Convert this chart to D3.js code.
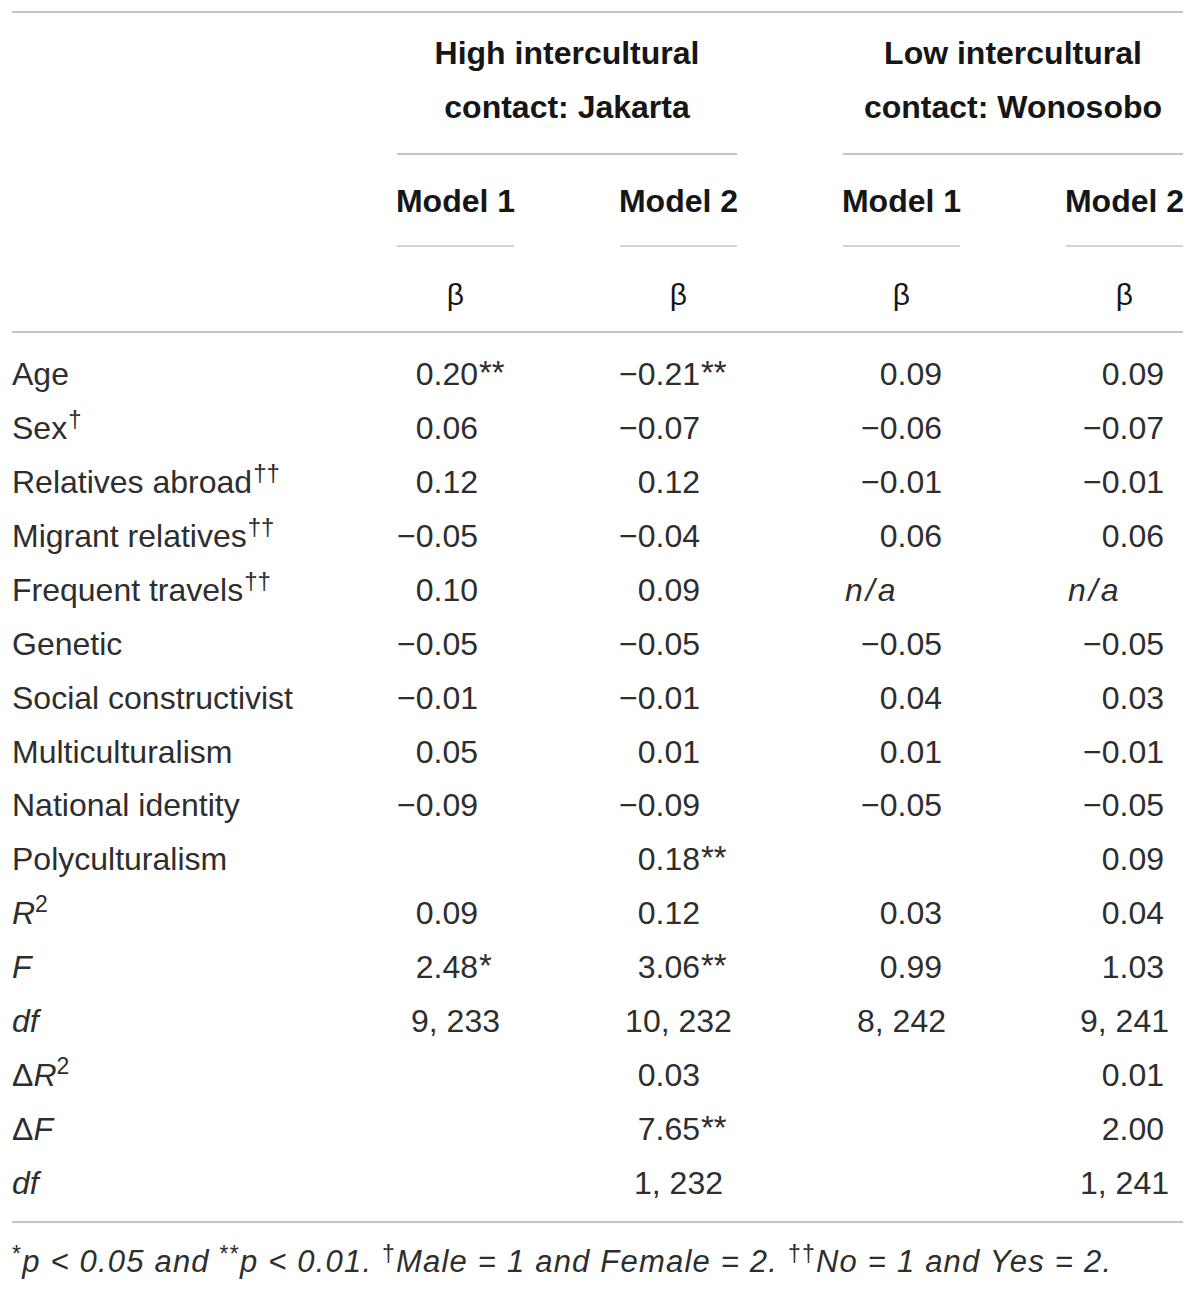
<!DOCTYPE html>
<html>
<head>
<meta charset="utf-8">
<script src="https://cdn.jsdelivr.net/npm/d3@7"></script>
<style>
  body { margin: 0; background: #fff; }
  svg { display: block; font-family: "Liberation Sans", Arial, Helvetica, sans-serif; }
</style>
</head>
<body>
<svg id="chart"></svg>
<script>
// ---- table content ----
const groupTitles = [
  ["High intercultural", "contact: Jakarta"],
  ["Low intercultural", "contact: Wonosobo"]
];
const modelNames = ["Model 1", "Model 2", "Model 1", "Model 2"];
const coefSymbol = "β";

const predictorLabels = [
  "Age", "Sex†", "Relatives abroad††", "Migrant relatives††", "Frequent travels††",
  "Genetic", "Social constructivist", "Multiculturalism", "National identity", "Polyculturalism"
];
const statLabels = ["R2", "F", "df", "ΔR2", "ΔF", "df"];

const jakartaM1 = ["0.20**", "0.06", "0.12", "−0.05", "0.10", "−0.05", "−0.01", "0.05", "−0.09", "",
  "0.09", "2.48*", "9, 233", "", "", ""];
const jakartaM2 = ["−0.21**", "−0.07", "0.12", "−0.04", "0.09", "−0.05", "−0.01", "0.01", "−0.09", "0.18**",
  "0.12", "3.06**", "10, 232", "0.03", "7.65**", "1, 232"];
const wonosoboM1 = ["0.09", "−0.06", "−0.01", "0.06", "n/a", "−0.05", "0.04", "0.01", "−0.05", "",
  "0.03", "0.99", "8, 242", "", "", ""];
const wonosoboM2 = ["0.09", "−0.07", "−0.01", "0.06", "n/a", "−0.05", "0.03", "−0.01", "−0.05", "0.09",
  "0.04", "1.03", "9, 241", "0.01", "2.00", "1, 241"];

const footnote = "*p < 0.05 and **p < 0.01. †Male = 1 and Female = 2. ††No = 1 and Yes = 2.";

// ---- layout ----
const width = 1200, height = 1291;
const left = 12, right = 1183;
const textColor = "#2e2e2e", headColor = "#161616", ruleColor = "#c4c4c4";
const fontSize = 32;
const colHalf = 58.5;
const numOffset = [22.5, 21.5, 40.5, 39.5]; // decimal alignment inside each column

const columns = [jakartaM1, jakartaM2, wonosoboM1, wonosoboM2];
const rowLabels = predictorLabels.concat(statLabels);

const svg = d3.select("#chart").attr("width", width).attr("height", height);

const x = d3.scalePoint().domain(d3.range(columns.length)).range([455.5, 1124.5]);
const y = d3.scalePoint().domain(d3.range(rowLabels.length)).range([374, 1183]);
const baseline = 11; // row centre -> text baseline

function rule(y0, x0, x1, w) {
  svg.append("line")
    .attr("x1", x0).attr("x2", x1).attr("y1", y0).attr("y2", y0)
    .attr("stroke", ruleColor).attr("stroke-width", w);
}

// full-width rules
rule(12, left, right, 2);
rule(332, left, right, 2);
rule(1222, left, right, 2);

// group headers
groupTitles.forEach((lines, g) => {
  const x0 = x(g * 2) - colHalf, x1 = x(g * 2 + 1) + colHalf;
  const cx = (x0 + x1) / 2;
  lines.forEach((t, i) => {
    svg.append("text")
      .attr("x", cx).attr("y", 64 + i * 54)
      .attr("text-anchor", "middle")
      .attr("font-size", fontSize).attr("font-weight", "bold")
      .attr("fill", headColor)
      .text(t);
  });
  rule(154, x0, x1, 2);
});

// model headers, underline and beta
modelNames.forEach((m, c) => {
  svg.append("text")
    .attr("x", x(c)).attr("y", 212)
    .attr("text-anchor", "middle")
    .attr("font-size", fontSize).attr("font-weight", "bold")
    .attr("fill", headColor)
    .text(m);
  rule(246, x(c) - colHalf, x(c) + colHalf, 1.5);
  svg.append("text")
    .attr("x", x(c)).attr("y", 305)
    .attr("text-anchor", "middle")
    .attr("font-size", 30)
    .attr("fill", headColor)
    .text(coefSymbol);
});

// row labels
rowLabels.forEach((lab, i) => {
  const t = svg.append("text")
    .attr("x", left).attr("y", y(i) + baseline)
    .attr("font-size", fontSize).attr("fill", textColor);
  if (i < predictorLabels.length) {
    const m = lab.match(/^([^†]*)(†*)$/);
    t.append("tspan").text(m[1]);
    if (m[2]) {
      t.append("tspan").attr("font-size", 24).attr("dy", -12).attr("dx", 1).text(m[2]);
    }
  } else {
    const m = lab.match(/^(Δ?)([A-Za-z]+)(2?)$/);
    if (m[1]) t.append("tspan").text(m[1]);
    t.append("tspan").attr("font-style", "italic").text(m[2]);
    if (m[3]) t.append("tspan").attr("font-size", 23).attr("dy", -12).text(m[3]);
  }
});

// cells
columns.forEach((col, c) => {
  col.forEach((v, i) => {
    if (!v) return;
    const yy = y(i) + baseline;
    const num = v.match(/^(−?\d+\.\d+)(\**)$/);
    if (num) {
      const xr = x(c) + numOffset[c];
      svg.append("text")
        .attr("x", xr).attr("y", yy)
        .attr("text-anchor", "end")
        .attr("font-size", fontSize).attr("fill", textColor)
        .text(num[1]);
      if (num[2]) {
        svg.append("text")
          .attr("x", xr + 1).attr("y", yy - 1)
          .attr("font-size", 33).attr("fill", textColor)
          .text(num[2]);
      }
    } else if (v === "n/a") {
      svg.append("text")
        .attr("x", x(c) - colHalf + 2).attr("y", yy)
        .attr("font-size", fontSize).attr("font-style", "italic")
        .attr("letter-spacing", 3).attr("fill", textColor)
        .text(v);
    } else {
      svg.append("text")
        .attr("x", x(c)).attr("y", yy)
        .attr("text-anchor", "middle")
        .attr("font-size", fontSize).attr("fill", textColor)
        .text(v);
    }
  });
});

// footnote: superscript the asterisks and daggers
const fn = svg.append("text")
  .attr("x", left).attr("y", 1272)
  .attr("font-size", 31).attr("font-style", "italic")
  .attr("letter-spacing", 1.2).attr("fill", textColor);
let up = false;
footnote.split(/([*†]+)/).filter(s => s.length).forEach(part => {
  const isSup = /^[*†]+$/.test(part);
  const ts = fn.append("tspan").text(part);
  if (isSup) {
    ts.attr("font-size", 23).attr("font-style", "normal").attr("dy", up ? 0 : -10);
    up = true;
  } else if (up) {
    ts.attr("dy", 10);
    up = false;
  }
});
</script>
</body>
</html>
